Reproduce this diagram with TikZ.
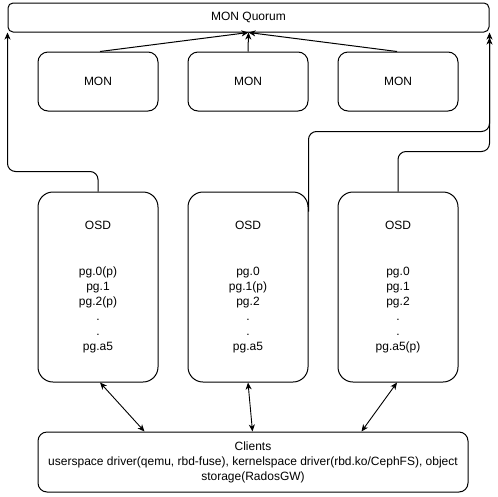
\documentclass[tikz,border=0pt]{standalone}
\usepackage{fontspec}
\setmainfont{Liberation Sans}
\usetikzlibrary{arrows.meta}
\begin{document}
\begin{tikzpicture}[x=1pt,y=-1pt,
  every node/.style={font=\fontsize{12}{15}\selectfont, inner sep=0pt, align=center},
  box/.style={draw, line width=1pt, rounded corners=#1},
  box/.default=10pt,
  tip/.style={-{Stealth[length=7pt,width=6pt,inset=2pt]}},
  conn/.style={draw, line width=1pt, rounded corners=8pt, tip},
  dbl/.style={draw, line width=0.9pt, {Stealth[length=7pt,width=6pt,inset=2pt]}-{Stealth[length=7pt,width=6pt,inset=2pt]}}
]
\useasboundingbox (0,0) rectangle (498,496);
\node[box=5pt, minimum width=481pt, minimum height=29pt] (q) at (248.5,17.5) {MON Quorum};
\node[box, minimum width=120pt, minimum height=59pt] (m1) at (98,81.5) {MON};
\node[box, minimum width=120pt, minimum height=59pt] (m2) at (248,81.5) {MON};
\node[box, minimum width=120pt, minimum height=59pt] (m3) at (398,81.5) {MON};
\node[box=15pt, minimum width=120pt, minimum height=190pt] (o1) at (98,287) {OSD\\[31pt]pg.0(p)\\pg.1\\pg.2(p)\\.\\.\\pg.a5};
\node[box=15pt, minimum width=120pt, minimum height=190pt] (o2) at (248,287) {OSD\\[31pt]pg.0\\pg.1(p)\\pg.2\\.\\.\\pg.a5};
\node[box=15pt, minimum width=120pt, minimum height=190pt] (o3) at (398,287) {OSD\\[31pt]pg.0\\pg.1\\pg.2\\.\\.\\pg.a5(p)};
\node[box=9pt, minimum width=430pt, minimum height=60pt] (cl) at (253,462) {Clients\\userspace driver(qemu, rbd-fuse), kernelspace driver(rbd.ko/CephFS), object\\storage(RadosGW)};
% MON to quorum
\draw[line width=1pt, tip] ([xshift=2pt]m1.north) -- (q.south);
\draw[line width=1pt, tip] (m2.north) -- (q.south);
\draw[line width=1pt, tip] ([xshift=-1pt]m3.north) -- (q.south);
% OSD to quorum
\draw[conn] (o1.north) -- ++(0,-20) -| (q.south west);
\draw[conn] ([yshift=-20pt]o2.north east) -- ++(0,-80) -| (q.south east);
\draw[conn] (o3.north) -- ++(0,-40) -| ([yshift=-5pt]q.south east);
% OSD to clients
\draw[dbl] ([xshift=2pt]o1.south) -- ([xshift=107pt]cl.north west);
\draw[dbl] (o2.south) -- ([xshift=215pt]cl.north west);
\draw[dbl] ([xshift=-1pt]o3.south) -- ([xshift=324pt]cl.north west);
\end{tikzpicture}
\end{document}
